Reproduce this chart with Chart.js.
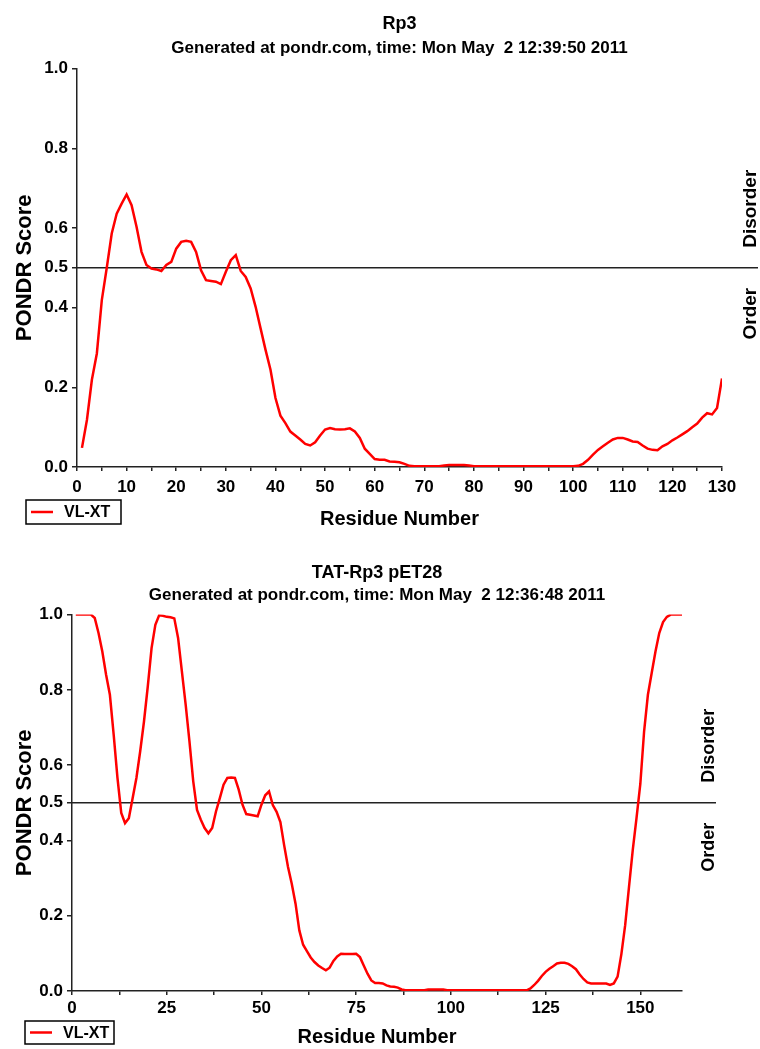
<!DOCTYPE html>
<html>
<head>
    <title>PONDR VL-XT</title>
    <script src="https://cdn.jsdelivr.net/npm/chart.js"></script>
    <style>
        body {
            margin: 0;
            background: #fff;
            width: 760px;
            height: 1049px;
            position: relative;
            overflow: hidden;
        }
        canvas {
            position: absolute;
            left: 0;
        }
        #chartTop { top: 0; }
        #chartBottom { top: 548px; }
    </style>
</head>
<body>
    <canvas id="chartTop" width="760" height="535"></canvas>
    <canvas id="chartBottom" width="760" height="501"></canvas>

    <script>
        // PONDR VL-XT scores, index 0 = residue 1
        const rp3Scores = [
            0.048, 0.118, 0.219, 0.285, 0.419, 0.500, 0.586, 0.636, 0.661, 0.684,
            0.657, 0.603, 0.540, 0.507, 0.498, 0.496, 0.492, 0.507, 0.515, 0.548,
            0.565, 0.568, 0.565, 0.540, 0.494, 0.469, 0.467, 0.465, 0.459, 0.490,
            0.519, 0.532, 0.492, 0.477, 0.448, 0.402, 0.348, 0.294, 0.244, 0.173,
            0.129, 0.110, 0.089, 0.079, 0.069, 0.058, 0.054, 0.062, 0.079, 0.094,
            0.098, 0.095, 0.094, 0.095, 0.097, 0.089, 0.073, 0.046, 0.033, 0.020,
            0.018, 0.018, 0.014, 0.013, 0.012, 0.008, 0.003, 0.002, 0.002, 0.002,
            0.002, 0.002, 0.002, 0.004, 0.005, 0.005, 0.005, 0.005, 0.004, 0.002,
            0.002, 0.002, 0.002, 0.002, 0.002, 0.002, 0.002, 0.002, 0.002, 0.002,
            0.002, 0.002, 0.002, 0.002, 0.002, 0.002, 0.002, 0.002, 0.002, 0.002,
            0.003, 0.008, 0.018, 0.031, 0.043, 0.052, 0.061, 0.069, 0.073, 0.073,
            0.069, 0.064, 0.063, 0.054, 0.046, 0.043, 0.042, 0.052, 0.058, 0.067,
            0.074, 0.082, 0.090, 0.100, 0.109, 0.124, 0.135, 0.132, 0.148, 0.222
        ];
        const tatRp3Scores = [
            1.000, 1.000, 1.000, 1.000, 1.000, 0.991, 0.951, 0.902, 0.840, 0.787,
            0.681, 0.566, 0.473, 0.446, 0.459, 0.512, 0.566, 0.637, 0.716, 0.809,
            0.911, 0.973, 0.998, 0.997, 0.994, 0.993, 0.990, 0.938, 0.849, 0.761,
            0.663, 0.557, 0.481, 0.455, 0.433, 0.419, 0.433, 0.477, 0.512, 0.548,
            0.566, 0.567, 0.566, 0.535, 0.495, 0.470, 0.468, 0.466, 0.464, 0.495,
            0.520, 0.530, 0.494, 0.476, 0.449, 0.387, 0.330, 0.285, 0.232, 0.161,
            0.123, 0.106, 0.089, 0.077, 0.068, 0.061, 0.055, 0.062, 0.080, 0.092,
            0.099, 0.098, 0.098, 0.098, 0.099, 0.090, 0.068, 0.046, 0.028, 0.021,
            0.021, 0.020, 0.015, 0.012, 0.011, 0.009, 0.004, 0.002, 0.002, 0.002,
            0.002, 0.002, 0.002, 0.004, 0.004, 0.004, 0.004, 0.004, 0.002, 0.002,
            0.002, 0.002, 0.002, 0.002, 0.002, 0.002, 0.002, 0.002, 0.002, 0.002,
            0.002, 0.002, 0.002, 0.002, 0.002, 0.002, 0.002, 0.002, 0.002, 0.002,
            0.007, 0.016, 0.027, 0.040, 0.051, 0.059, 0.066, 0.073, 0.075, 0.075,
            0.072, 0.066, 0.058, 0.044, 0.032, 0.023, 0.020, 0.020, 0.020, 0.020,
            0.020, 0.016, 0.020, 0.038, 0.098, 0.175, 0.275, 0.374, 0.460, 0.550,
            0.690, 0.787, 0.845, 0.902, 0.951, 0.980, 0.994, 1.000, 1.000, 1.000,
            1.000
        ];

        const yTicks = [0, 0.2, 0.4, 0.5, 0.6, 0.8, 1.0];
        const rp3XTicks = [0, 5, 10, 15, 20, 25, 30, 35, 40, 45, 50, 55, 60, 65, 70,
                           75, 80, 85, 90, 95, 100, 105, 110, 115, 120, 125, 130];
        const rp3XLabels = [0, 10, 20, 30, 40, 50, 60, 70, 80, 90, 100, 110, 120, 130];
        const tatXTicks = [0, 12.5, 25, 37.5, 50, 62.5, 75, 87.5, 100, 112.5, 125, 137.5, 150];
        const tatXLabels = [0, 25, 50, 75, 100, 125, 150];

        const threshold = 0.5;
        const seriesName = 'VL-XT';
        const fontFamily = "'Liberation Sans', Arial, Helvetica, sans-serif";
        const axisColor = '#222';

        Chart.defaults.font.family = fontFamily;
        Chart.defaults.color = '#000';

        // threshold line, Disorder/Order labels and the boxed legend
        const pondrDecor = {
            id: 'pondrDecor',
            beforeDatasetsDraw(chart, args, opts) {
                const ctx = chart.ctx;
                const area = chart.chartArea;
                const yPix = chart.scales.y.getPixelForValue(threshold);
                ctx.save();
                ctx.strokeStyle = axisColor;
                ctx.lineWidth = 1.5;
                ctx.beginPath();
                ctx.moveTo(area.left, yPix);
                ctx.lineTo(area.right + opts.lineExtra, yPix);
                ctx.stroke();
                ctx.restore();
            },
            afterDraw(chart, args, opts) {
                const ctx = chart.ctx;
                const area = chart.chartArea;
                const yPix = chart.scales.y.getPixelForValue(threshold);
                ctx.save();
                ctx.fillStyle = '#000';
                ctx.font = 'bold ' + opts.sideFont + 'px ' + fontFamily;
                ctx.textBaseline = 'middle';
                ctx.translate(area.right + opts.sideOffset, yPix);
                ctx.rotate(-Math.PI / 2);
                ctx.textAlign = 'left';
                ctx.fillText('Disorder', 20, 0);
                ctx.textAlign = 'right';
                ctx.fillText('Order', -20, 0);
                ctx.restore();

                // legend
                const ds = chart.data.datasets[0];
                const bx = opts.legendX, by = area.bottom + opts.legendDy;
                ctx.save();
                ctx.strokeStyle = '#000';
                ctx.lineWidth = 1.5;
                ctx.strokeRect(bx, by, opts.legendW, opts.legendH);
                ctx.strokeStyle = ds.borderColor;
                ctx.lineWidth = 2.5;
                ctx.beginPath();
                ctx.moveTo(bx + 5, by + opts.legendH / 2);
                ctx.lineTo(bx + 27, by + opts.legendH / 2);
                ctx.stroke();
                ctx.fillStyle = '#000';
                ctx.font = 'bold 16px ' + fontFamily;
                ctx.textBaseline = 'middle';
                ctx.textAlign = 'left';
                ctx.fillText(ds.label, bx + 38, by + opts.legendH / 2 + 1);
                ctx.restore();
            }
        };

        function buildChart(id, cfg) {
            const points = cfg.scores.map((v, i) => ({ x: i + 1, y: v }));
            return new Chart(document.getElementById(id), {
                type: 'line',
                data: {
                    datasets: [{
                        label: seriesName,
                        data: points,
                        borderColor: '#ff0000',
                        borderWidth: 2.5,
                        pointRadius: 0,
                        tension: 0,
                        fill: false
                    }]
                },
                options: {
                    responsive: false,
                    animation: false,
                    layout: { padding: { left: 0, right: cfg.padRight, top: 0, bottom: 0 } },
                    plugins: {
                        legend: { display: false },
                        tooltip: { enabled: false },
                        title: {
                            display: true,
                            fullSize: false,
                            text: cfg.title,
                            color: '#000',
                            font: { size: 18, weight: 'bold' },
                            padding: cfg.titlePad
                        },
                        subtitle: {
                            display: true,
                            fullSize: false,
                            text: cfg.subtitle,
                            color: '#000',
                            font: { size: 17, weight: 'bold' },
                            padding: cfg.subtitlePad
                        },
                        pondrDecor: cfg.decor
                    },
                    scales: {
                        x: {
                            type: 'linear',
                            min: 0,
                            max: cfg.xMax,
                            afterFit: (scale) => { scale.height = cfg.xAxisHeight; },
                            afterBuildTicks: (scale) => {
                                scale.ticks = cfg.xTicks.map(v => ({ value: v }));
                            },
                            ticks: {
                                autoSkip: false,
                                maxRotation: 0,
                                padding: cfg.xTickPad,
                                color: '#000',
                                font: { size: 17, weight: 'bold' },
                                callback: (v) => cfg.xLabels.includes(v) ? String(v) : ''
                            },
                            grid: {
                                drawOnChartArea: false,
                                drawTicks: true,
                                tickLength: 4,
                                color: axisColor,
                                lineWidth: 1.5
                            },
                            border: { display: true, color: axisColor, width: 1.5 },
                            title: {
                                display: true,
                                text: 'Residue Number',
                                color: '#000',
                                font: { size: 20, weight: 'bold' },
                                padding: { top: 0, bottom: cfg.xTitlePad }
                            }
                        },
                        y: {
                            type: 'linear',
                            min: 0,
                            max: 1,
                            afterFit: (scale) => { scale.width = cfg.yAxisWidth; },
                            afterBuildTicks: (scale) => {
                                scale.ticks = yTicks.map(v => ({ value: v }));
                            },
                            ticks: {
                                autoSkip: false,
                                padding: 4,
                                color: '#000',
                                font: { size: 17, weight: 'bold' },
                                callback: (v) => Number(v).toFixed(1)
                            },
                            grid: {
                                drawOnChartArea: false,
                                drawTicks: true,
                                tickLength: 5,
                                color: axisColor,
                                lineWidth: 1.5
                            },
                            border: { display: true, color: axisColor, width: 1.5 },
                            title: {
                                display: true,
                                text: 'PONDR Score',
                                color: '#000',
                                font: { size: 22, weight: 'bold' },
                                padding: { top: 12, bottom: 0 }
                            }
                        }
                    }
                },
                plugins: [pondrDecor]
            });
        }

        buildChart('chartTop', {
            title: 'Rp3',
            subtitle: 'Generated at pondr.com, time: Mon May  2 12:39:50 2011',
            scores: rp3Scores,
            xMax: 130,
            xTicks: rp3XTicks,
            xLabels: rp3XLabels,
            padRight: 38,
            yAxisWidth: 77,
            xAxisHeight: 68,
            xTickPad: 6,
            xTitlePad: 4,
            titlePad: { top: 13.2, bottom: 0 },
            subtitlePad: { top: 3.3, bottom: 10.1 },
            decor: { lineExtra: 36, sideOffset: 29, sideFont: 19,
                     legendX: 26, legendDy: 33, legendW: 95, legendH: 24 }
        });

        buildChart('chartBottom', {
            title: 'TAT-Rp3 pET28',
            subtitle: 'Generated at pondr.com, time: Mon May  2 12:36:48 2011',
            scores: tatRp3Scores,
            xMax: 161,
            xTicks: tatXTicks,
            xLabels: tatXLabels,
            padRight: 78,
            yAxisWidth: 72,
            xAxisHeight: 58,
            xTickPad: 3,
            xTitlePad: 0,
            titlePad: { top: 14.2, bottom: 0 },
            subtitlePad: { top: 1.3, bottom: 9.1 },
            decor: { lineExtra: 34, sideOffset: 27, sideFont: 18,
                     legendX: 25, legendDy: 30, legendW: 89, legendH: 23 }
        });
    </script>
</body>
</html>
